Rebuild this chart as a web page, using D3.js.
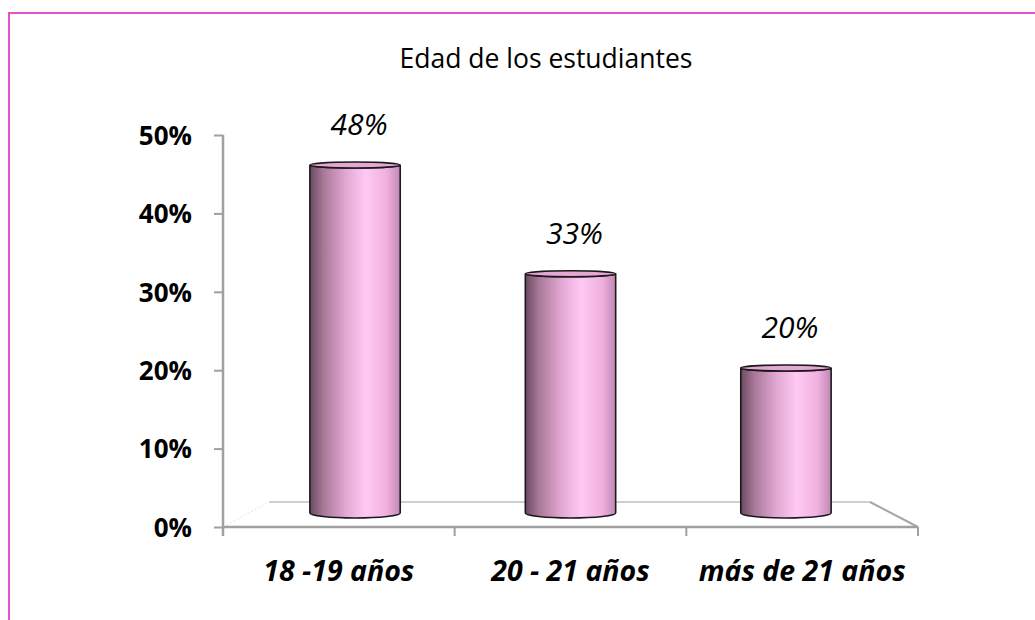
<!DOCTYPE html>
<html>
<head>
<meta charset="utf-8">
<script src="https://cdn.jsdelivr.net/npm/d3@7"></script>
<style>
  body { margin: 0; background: #fff; }
  svg text { font-family: "Open Sans", "DejaVu Sans", sans-serif; }
</style>
</head>
<body>
<svg id="chart" width="1035" height="620"></svg>
<script>
// Chart data
var categories = ['18 -19 años', '20 - 21 años', 'más de 21 años'];
var values = [48, 33, 20];
var valueLabels = ['48%', '33%', '20%'];
var yTicks = [0, 10, 20, 30, 40, 50];

var svg = d3.select('svg#chart');

// Plot frame
var plot = {left: 223, right: 918, top: 135, bottom: 527};
var depth = {dx: 46, dy: 25};   // floor back offset
var persp = 0.93;               // bars sit half way into the depth

// Outer pink border (goes off the page on the right and bottom)
svg.append('rect')
  .attr('x', 9).attr('y', 13)
  .attr('width', 1100).attr('height', 700)
  .attr('fill', 'none')
  .attr('stroke', '#e453cc')
  .attr('stroke-width', 2);

// Title
svg.append('text')
  .attr('x', 546).attr('y', 68)
  .attr('text-anchor', 'middle')
  .attr('font-size', 26.5)
  .attr('fill', '#000')
  .text('Edad de los estudiantes');

var xScale = d3.scaleBand().domain(categories).range([plot.left, plot.right]);
var yScale = d3.scaleLinear().domain([0, 50]).range([plot.bottom, plot.top]);
// bars stand a little back in the 3D box
var barY = d3.scaleLinear().domain([0, 50]).range([513, 150.5]);
var vp = (plot.left + plot.right) / 2;

function barCenter(c) {
  var cx = xScale(c) + xScale.bandwidth() / 2;
  return vp + (cx - vp) * persp;
}

// Floor
var floor = svg.append('g').attr('class', 'floor');
floor.append('line')
  .attr('x1', plot.left + depth.dx).attr('x2', plot.right - depth.dx - 2)
  .attr('y1', plot.bottom - depth.dy).attr('y2', plot.bottom - depth.dy)
  .attr('stroke', '#cfcfcf').attr('stroke-width', 2);
floor.append('line')
  .attr('x1', plot.right - depth.dx - 2).attr('y1', plot.bottom - depth.dy)
  .attr('x2', plot.right).attr('y2', plot.bottom)
  .attr('stroke', '#a6a6a6').attr('stroke-width', 2);
floor.append('line')
  .attr('x1', plot.left).attr('y1', plot.bottom)
  .attr('x2', plot.left + depth.dx).attr('y2', plot.bottom - depth.dy)
  .attr('stroke', '#eeeeee').attr('stroke-width', 1.5)
  .attr('stroke-dasharray', '2,2');

// Cylinder gradient
var defs = svg.append('defs');
var grad = defs.append('linearGradient').attr('id', 'cyl')
  .attr('x1', '0%').attr('x2', '100%').attr('y1', '0%').attr('y2', '0%');
[[0, '#6b4a63'], [0.15, '#a87898'], [0.4, '#e3a8d4'], [0.62, '#ffc9f5'],
 [0.85, '#f0b0e0'], [1, '#c088b4']].forEach(function(s) {
  grad.append('stop').attr('offset', s[0]).attr('stop-color', s[1]);
});

var barW = xScale.bandwidth() * 0.39;
var rx = barW / 2;
var ryTop = 3, ryBot = 5;

var bars = svg.append('g').attr('class', 'bars')
  .selectAll('g').data(categories).enter().append('g');

bars.append('path')
  .attr('d', function(c, i) {
    var cx = barCenter(c);
    var x0 = cx - rx, x1 = cx + rx;
    var yt = barY(values[i]), yb = barY(0);
    return 'M' + x0 + ',' + yt + ' L' + x0 + ',' + yb +
      ' A' + rx + ',' + ryBot + ' 0 0 0 ' + x1 + ',' + yb +
      ' L' + x1 + ',' + yt +
      ' A' + rx + ',' + ryTop + ' 0 0 1 ' + x0 + ',' + yt + ' Z';
  })
  .attr('fill', 'url(#cyl)')
  .attr('stroke', '#1a1a1a')
  .attr('stroke-width', 1.6);

bars.append('ellipse')
  .attr('cx', function(c) { return barCenter(c); })
  .attr('cy', function(c, i) { return barY(values[i]); })
  .attr('rx', rx).attr('ry', ryTop)
  .attr('fill', '#e6a6d6')
  .attr('stroke', '#1a1a1a')
  .attr('stroke-width', 1.6);

// Value labels
svg.append('g').selectAll('text').data(categories).enter().append('text')
  .attr('x', function(c) { return barCenter(c) + 4; })
  .attr('y', function(c, i) { return barY(values[i]) - 30; })
  .attr('text-anchor', 'middle')
  .attr('font-size', 30)
  .attr('font-style', 'italic')
  .text(function(c, i) { return valueLabels[i]; });

// Y axis
var yAxis = d3.axisLeft(yScale).tickValues(yTicks)
  .tickFormat(function(d) { return d + '%'; })
  .tickSizeInner(9).tickSizeOuter(0).tickPadding(22);
var gy = svg.append('g').attr('transform', 'translate(' + plot.left + ',0)').call(yAxis);
gy.select('.domain').attr('stroke', '#a0a0a0').attr('stroke-width', 2.5)
  .attr('d', 'M0,' + plot.top + 'V' + (plot.bottom + 9));
gy.selectAll('.tick line').attr('stroke', '#a0a0a0').attr('stroke-width', 2);
gy.selectAll('.tick text')
  .attr('font-family', '"Open Sans", sans-serif')
  .attr('font-size', 26).attr('font-weight', 'bold').attr('fill', '#000')
  .attr('dy', '0.36em');

// X axis
var gx = svg.append('g');
gx.append('line')
  .attr('x1', plot.left).attr('x2', plot.right)
  .attr('y1', plot.bottom).attr('y2', plot.bottom)
  .attr('stroke', '#a0a0a0').attr('stroke-width', 2.5);
var edges = categories.map(function(c) { return xScale(c); }).concat([plot.right]);
gx.selectAll('line.tk').data(edges).enter().append('line')
  .attr('class', 'tk')
  .attr('x1', function(d) { return d; }).attr('x2', function(d) { return d; })
  .attr('y1', plot.bottom).attr('y2', plot.bottom + 9)
  .attr('stroke', '#a0a0a0').attr('stroke-width', 2);
gx.selectAll('text').data(categories).enter().append('text')
  .attr('x', function(c) { return xScale(c) + xScale.bandwidth() / 2; })
  .attr('y', 581)
  .attr('text-anchor', 'middle')
  .attr('font-size', 28.5)
  .attr('font-weight', 'bold')
  .attr('font-style', 'italic')
  .text(function(c) { return c; });
</script>
</body>
</html>
